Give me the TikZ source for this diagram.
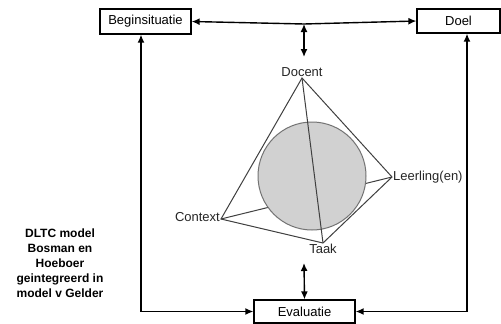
\documentclass[tikz,border=0pt]{standalone}
\usepackage{fontspec}
\setmainfont{Liberation Sans}
\usetikzlibrary{arrows.meta,positioning}
\tikzstyle{box} = [rectangle, draw=black, line width=1.3pt, inner sep=0pt, font=\fontsize{13}{15}\selectfont]
\tikzstyle{lbl} = [inner sep=1pt, text=black!85, font=\fontsize{13}{15}\selectfont]
\tikzstyle{line} = [draw, line width=1.4pt, -{Latex[length=8pt,width=7pt]}]
\tikzstyle{twoway} = [draw, line width=1.4pt, {Latex[length=8pt,width=7pt]}-{Latex[length=8pt,width=7pt]}]
\tikzstyle{edge} = [draw=black!75, line width=1pt]

\begin{document}
\begin{tikzpicture}[x=1pt, y=-1pt]
        \useasboundingbox [fill=white] (0,0) rectangle (501,324);
        % boxes
        \node (Begin) [box, minimum width=91pt, minimum height=25pt] at (145.5,21.5) {Beginsituatie};
        \node (Doel) [box, minimum width=83pt, minimum height=24pt] at (458.5,21) {Doel};
        \node (Eval) [box, minimum width=101pt, minimum height=23pt] at (304.5,311.5) {Evaluatie};

        % corners of the tetrahedron
        \coordinate (D) at (302,78);
        \coordinate (L) at (392,177);
        \coordinate (C) at (221,219);
        \coordinate (T) at (323,243);
        \node (Docent) [lbl, above=0pt of D] {Docent};
        \node (Leerling) [lbl, right=0pt of L] {Leerling(en)};
        \node (Context) [lbl, left=0pt of C, yshift=2pt] {Context};
        \node (Taak) [lbl, below=0pt of T] {Taak};

        \draw [edge] (C) -- (L);
        \node (Bol) [circle, draw=black!55, fill=black!18, line width=1pt, minimum size=108pt] at (312,176) {};
        \draw [edge] (D) -- (C) -- (T) -- (L) -- cycle;
        \draw [edge] (D) -- (T);

        % connectors
        \coordinate (top) at (304,24);
        \coordinate (topd) at (304,57);
        \coordinate (bot) at (304,263);
        \coordinate (lx) at (141,0);
        \coordinate (rx) at (467,0);
        \path [line] (top) -- (Begin.east);
        \path [line] (top) -- (Doel.west);
        \path [twoway] (top) -- (topd);
        \path [twoway] (bot) -- (Eval.north);
        \path [twoway] (lx |- Begin.south) |- (Eval.west);
        \path [twoway] (rx |- Doel.south) |- (Eval.east);

        \node (Titel) [align=center, font=\fontsize{12}{15}\selectfont\bfseries] at (60,263) {DLTC model\\ Bosman en\\ Hoeboer\\ geintegreerd in\\ model v Gelder};

    \end{tikzpicture}
\end{document}
